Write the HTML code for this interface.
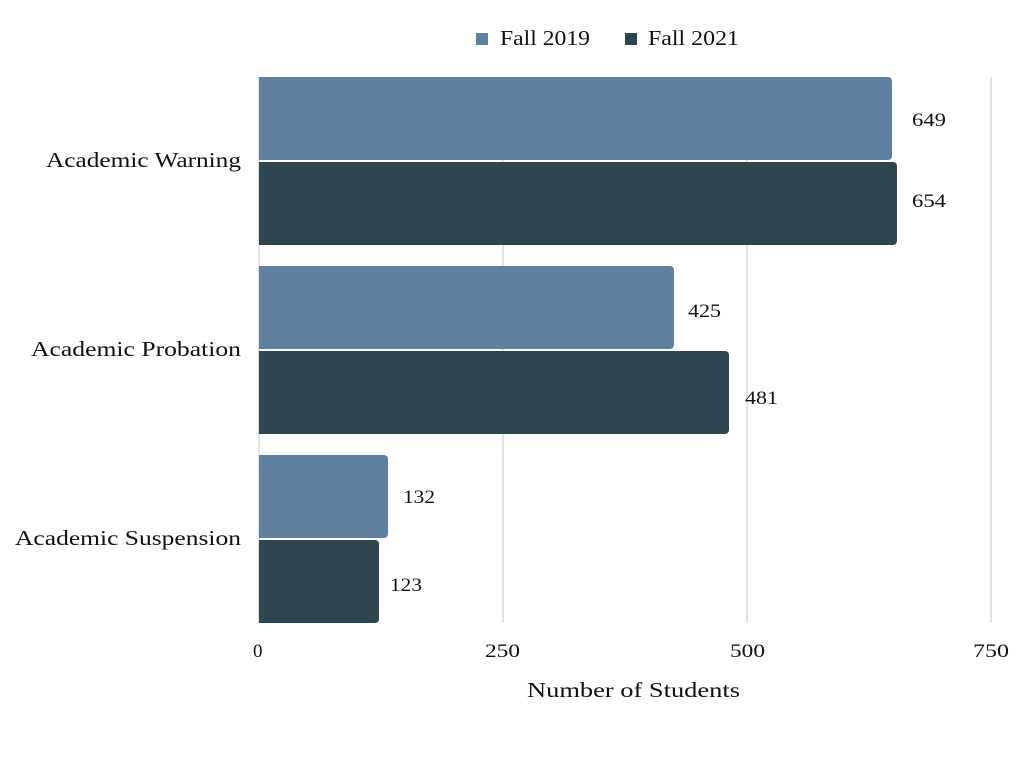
<!DOCTYPE html>
<html><head><meta charset="utf-8"><style>
body{margin:0;background:#fff;}
svg text{font-family:"Liberation Serif",serif;fill:#111;}
</style></head><body>
<svg width="1024" height="768" xmlns="http://www.w3.org/2000/svg">
<g stroke="#d0d0d0" stroke-width="1.2">
<line x1="503" y1="77" x2="503" y2="623"/>
<line x1="747" y1="77" x2="747" y2="623"/>
<line x1="991" y1="77" x2="991" y2="623"/>
<line x1="259" y1="77" x2="259" y2="623"/>
</g>
<g>
<path d="M259 77 H888 a4 4 0 0 1 4 4 V156 a4 4 0 0 1 -4 4 H259Z" fill="#5f809f"/>
<path d="M259 162 H893 a4 4 0 0 1 4 4 V241 a4 4 0 0 1 -4 4 H259Z" fill="#2f4550"/>
<path d="M259 266 H670 a4 4 0 0 1 4 4 V345 a4 4 0 0 1 -4 4 H259Z" fill="#5f809f"/>
<path d="M259 351 H725 a4 4 0 0 1 4 4 V430 a4 4 0 0 1 -4 4 H259Z" fill="#2f4550"/>
<path d="M259 455 H384 a4 4 0 0 1 4 4 V534 a4 4 0 0 1 -4 4 H259Z" fill="#5f809f"/>
<path d="M259 540 H375 a4 4 0 0 1 4 4 V619 a4 4 0 0 1 -4 4 H259Z" fill="#2f4550"/>
</g>
<g font-size="19">
<text x="912" y="126" textLength="34" lengthAdjust="spacingAndGlyphs">649</text>
<text x="912" y="207" textLength="34" lengthAdjust="spacingAndGlyphs">654</text>
<text x="688" y="317" textLength="33" lengthAdjust="spacingAndGlyphs">425</text>
<text x="745" y="404" textLength="33" lengthAdjust="spacingAndGlyphs">481</text>
<text x="403" y="503" textLength="32" lengthAdjust="spacingAndGlyphs">132</text>
<text x="390" y="591" textLength="32" lengthAdjust="spacingAndGlyphs">123</text>
</g>
<g font-size="21">
<text x="46" y="167" textLength="195" lengthAdjust="spacingAndGlyphs">Academic Warning</text>
<text x="31" y="356" textLength="210" lengthAdjust="spacingAndGlyphs">Academic Probation</text>
<text x="15" y="545" textLength="226" lengthAdjust="spacingAndGlyphs">Academic Suspension</text>
</g>
<g font-size="19">
<text x="253" y="657">0</text>
<text x="485" y="657" textLength="35" lengthAdjust="spacingAndGlyphs">250</text>
<text x="730" y="657" textLength="35" lengthAdjust="spacingAndGlyphs">500</text>
<text x="973" y="657" textLength="36" lengthAdjust="spacingAndGlyphs">750</text>
</g>
<text x="527" y="697" font-size="21" textLength="213" lengthAdjust="spacingAndGlyphs">Number of Students</text>
<rect x="476" y="33" width="12" height="12" fill="#5f809f"/>
<text x="500" y="45" font-size="21" textLength="90" lengthAdjust="spacingAndGlyphs">Fall 2019</text>
<rect x="625" y="33" width="12" height="12" fill="#2f4550"/>
<text x="648" y="45" font-size="21" textLength="91" lengthAdjust="spacingAndGlyphs">Fall 2021</text>
</svg>
</body></html>
